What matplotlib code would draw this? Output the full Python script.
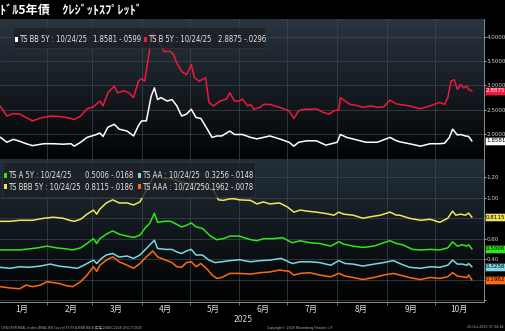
import datetime as dt
import numpy as np
import matplotlib
matplotlib.use("Agg")
import matplotlib.pyplot as plt
import matplotlib.dates as mdates
from matplotlib import font_manager
from matplotlib.colors import LinearSegmentedColormap
from matplotlib.patches import Rectangle
from matplotlib.ticker import FixedLocator, FuncFormatter

# 日付は 2025-01-01 からの経過日数
bb_days = [2, 6, 10, 14, 18, 22, 29, 35, 41, 46, 48, 52, 56, 61, 64, 66, 69, 73, 76, 81,
           85, 88, 90, 93, 96, 98, 100, 102, 106, 109, 112, 115, 118, 121, 124, 127, 131, 134, 137, 140,
           145, 148, 153, 158, 162, 166, 170, 176, 182, 185, 188, 193, 199, 205, 212, 214, 218, 224, 230, 237,
           245, 249, 251, 257, 264, 270, 276, 279, 282, 284, 287, 289, 292, 294, 296]
bb = [1.93, 1.83, 1.89, 1.85, 1.80, 1.76, 1.80, 1.80, 1.79, 1.80, 1.75, 1.83, 1.93, 1.98, 2.02, 1.95, 2.14, 2.20, 2.10, 2.06,
      1.96, 2.17, 2.27, 2.27, 2.78, 2.95, 2.71, 2.75, 2.68, 2.71, 2.58, 2.37, 2.41, 2.51, 2.34, 2.32, 2.10, 1.93, 1.96, 1.96,
      2.06, 1.99, 1.99, 1.93, 1.90, 1.93, 1.96, 1.90, 1.83, 1.75, 1.83, 1.86, 1.86, 1.77, 1.83, 1.99, 1.93, 1.88, 1.83, 1.83,
      1.93, 1.86, 1.84, 1.80, 1.75, 1.80, 1.80, 1.81, 1.93, 2.10, 1.98, 1.99, 1.96, 1.95, 1.8581]

b_days = [2, 6, 10, 14, 18, 22, 27, 33, 39, 45, 48, 52, 56, 60, 64, 66, 69, 73, 75, 79,
          82, 85, 88, 90, 92, 94, 96, 97, 101, 104, 108, 110, 112, 115, 118, 121, 123, 126, 130, 132,
          135, 139, 143, 145, 148, 151, 153, 156, 158, 160, 164, 166, 170, 176, 182, 185, 188, 191, 195, 199,
          203, 207, 210, 213, 214, 217, 220, 224, 228, 233, 237, 241, 245, 249, 251, 257, 264, 270, 276, 279,
          281, 283, 285, 287, 289, 291, 293, 294, 296]
b = [2.57, 2.37, 2.42, 2.41, 2.34, 2.27, 2.33, 2.37, 2.36, 2.33, 2.30, 2.37, 2.52, 2.56, 2.68, 2.58, 2.85, 2.99, 2.85, 2.89,
     2.85, 2.75, 3.09, 3.14, 3.09, 3.53, 3.94, 4.10, 3.88, 3.70, 3.70, 3.63, 3.46, 3.29, 3.22, 3.43, 3.16, 3.09, 3.16, 2.65,
     2.58, 2.68, 2.72, 2.85, 2.68, 2.68, 2.72, 2.58, 2.61, 2.51, 2.55, 2.61, 2.61, 2.55, 2.48, 2.32, 2.48, 2.51, 2.51, 2.52,
     2.45, 2.41, 2.48, 2.50, 2.75, 2.68, 2.61, 2.59, 2.55, 2.58, 2.55, 2.56, 2.70, 2.62, 2.61, 2.58, 2.52, 2.58, 2.65, 2.61,
     2.75, 3.09, 3.12, 2.92, 3.02, 2.95, 2.99, 2.92, 2.8875]

bbb_days = [2, 8, 14, 22, 29, 35, 41, 45, 48, 52, 56, 60, 62, 64, 68, 72, 76, 81, 85, 89,
            91, 94, 97, 99, 104, 108, 112, 118, 124, 131, 135, 138, 141, 145, 148, 151, 158, 162, 166, 170,
            176, 181, 185, 189, 193, 199, 205, 210, 213, 216, 222, 228, 233, 239, 245, 249, 251, 257, 264, 270,
            276, 281, 284, 286, 289, 292, 294, 296]
bbb = [0.77, 0.77, 0.78, 0.78, 0.80, 0.81, 0.80, 0.78, 0.77, 0.79, 0.84, 0.88, 0.84, 0.89, 0.95, 0.98, 0.95, 0.95, 0.93, 0.96,
       1.02, 1.10, 1.20, 1.22, 1.19, 1.19, 1.17, 1.14, 1.14, 1.10, 1.07, 0.98, 0.975, 0.99, 0.99, 0.98, 0.975, 0.94, 0.96, 0.94,
       0.95, 0.91, 0.86, 0.88, 0.87, 0.86, 0.846, 0.83, 0.86, 0.84, 0.83, 0.80, 0.815, 0.83, 0.86, 0.83, 0.83, 0.80, 0.78, 0.79,
       0.76, 0.80, 0.87, 0.83, 0.84, 0.83, 0.85, 0.8115]

a_days = [2, 8, 14, 20, 25, 31, 37, 43, 47, 52, 56, 60, 62, 64, 68, 72, 76, 81, 85, 89,
          92, 95, 98, 100, 104, 108, 111, 115, 118, 121, 124, 128, 133, 137, 141, 145, 151, 158, 162, 166,
          172, 178, 184, 189, 195, 201, 208, 213, 216, 222, 228, 235, 241, 245, 249, 253, 259, 264, 270, 276,
          281, 284, 287, 290, 293, 294, 296]
a = [0.49, 0.49, 0.49, 0.50, 0.51, 0.527, 0.51, 0.50, 0.49, 0.51, 0.553, 0.60, 0.553, 0.60, 0.644, 0.676, 0.644, 0.625, 0.612, 0.634,
     0.70, 0.748, 0.85, 0.76, 0.77, 0.77, 0.748, 0.715, 0.73, 0.755, 0.715, 0.70, 0.625, 0.59, 0.60, 0.625, 0.625, 0.59, 0.58, 0.60,
     0.60, 0.61, 0.56, 0.58, 0.56, 0.553, 0.527, 0.57, 0.547, 0.527, 0.514, 0.527, 0.56, 0.58, 0.553, 0.54, 0.495, 0.49, 0.495, 0.49,
     0.51, 0.569, 0.527, 0.54, 0.527, 0.54, 0.5006]

aa_days = [2, 8, 14, 20, 27, 33, 39, 45, 50, 54, 58, 60, 62, 65, 68, 72, 76, 81, 85, 89,
           93, 98, 100, 105, 109, 112, 115, 118, 121, 124, 128, 132, 136, 140, 145, 151, 158, 164, 170, 177,
           184, 189, 195, 201, 208, 213, 217, 222, 228, 235, 241, 247, 251, 257, 264, 270, 276, 281, 284, 287,
           290, 293, 294, 296]
aa = [0.319, 0.31, 0.325, 0.32, 0.332, 0.351, 0.33, 0.32, 0.31, 0.34, 0.374, 0.39, 0.357, 0.407, 0.44, 0.455, 0.42, 0.43, 0.407, 0.44,
      0.504, 0.585, 0.504, 0.495, 0.495, 0.47, 0.455, 0.48, 0.495, 0.44, 0.44, 0.39, 0.366, 0.374, 0.385, 0.393, 0.374, 0.385, 0.39, 0.407,
      0.357, 0.374, 0.374, 0.366, 0.34, 0.385, 0.357, 0.351, 0.332, 0.351, 0.366, 0.385, 0.357, 0.32, 0.31, 0.325, 0.32, 0.34, 0.39, 0.351,
      0.351, 0.34, 0.357, 0.3256]

aaa_days = [2, 8, 14, 18, 22, 27, 31, 35, 39, 43, 47, 52, 56, 60, 62, 64, 68, 72, 76, 81,
            85, 89, 93, 97, 100, 105, 109, 112, 115, 118, 121, 124, 127, 131, 134, 137, 140, 145, 151, 158,
            164, 170, 176, 182, 185, 189, 195, 201, 208, 213, 217, 222, 228, 235, 241, 247, 251, 257, 264, 270,
            276, 281, 284, 287, 290, 293, 294, 296]
aaa = [0.13, 0.117, 0.11, 0.146, 0.13, 0.146, 0.179, 0.17, 0.16, 0.14, 0.13, 0.179, 0.244, 0.325, 0.28, 0.34, 0.39, 0.422, 0.374, 0.34,
       0.31, 0.357, 0.422, 0.48, 0.422, 0.39, 0.366, 0.325, 0.32, 0.366, 0.374, 0.325, 0.357, 0.30, 0.244, 0.211, 0.22, 0.26, 0.26, 0.253,
       0.267, 0.274, 0.293, 0.28, 0.244, 0.26, 0.267, 0.244, 0.227, 0.26, 0.234, 0.22, 0.20, 0.22, 0.244, 0.26, 0.244, 0.22, 0.20, 0.22,
       0.211, 0.227, 0.267, 0.234, 0.227, 0.22, 0.244, 0.1962]

# 凡例: (ラベル, 最新値と前日比)
top_legend = [("TS BB 5Y : 10/24/25", "1.8581 -.0599"), ("TS B 5Y : 10/24/25", "2.8875 -.0296")]
low_legend = [("TS A 5Y : 10/24/25", "0.5006 -.0168"), ("TS AA : 10/24/25", "0.3256 -.0148"),
              ("TS BBB 5Y : 10/24/25", "0.8115 -.0186"), ("TS AAA : 10/24/25", "0.1962 -.0078")]
top_ticks = [2.0, 2.5, 3.0, 3.5, 4.0]
low_ticks = [0.0, 0.2, 0.4, 0.6, 0.8, 1.0, 1.2]
low_hidden = [0.0, 0.2, 0.8]   # 最新値ラベルの下に隠れる目盛

C_BB, C_B = "#ffffff", "#f0183c"
C_BBB, C_A, C_AA, C_AAA = "#f2e55a", "#2ee61a", "#7fd6e0", "#ff6a10"

# 細いフォントを探す (無ければ Liberation Sans を小さめで)
NARROW = dict(family="Liberation Sans")
LEG_FS, TICK_FS = 5.2, 4.3
for f in font_manager.fontManager.ttflist:
    if f.name == "Liberation Sans Narrow":
        NARROW, LEG_FS, TICK_FS = dict(family="Liberation Sans Narrow"), 6.3, 5.2
        break
    if f.name == "DejaVu Sans" and f.stretch in ("condensed", "semi-condensed"):
        NARROW, LEG_FS, TICK_FS = dict(family="DejaVu Sans", stretch="condensed"), 5.5, 4.5
JP = ["Noto Sans CJK JP", "DejaVu Sans"]

W, H = 505, 331
BASE = mdates.date2num(dt.datetime(2025, 1, 1))


def px(x, y):
    return x / W, 1 - y / H


def xd(days):
    return BASE + np.array(days, dtype=float)


def paint(ax, top, bottom):
    cmap = LinearSegmentedColormap.from_list("bg", [bottom, top])
    grad = np.linspace(0, 1, 256).reshape(-1, 1)
    ax.imshow(grad, extent=[0, 1, 0, 1], transform=ax.transAxes, cmap=cmap,
              aspect="auto", origin="lower", zorder=0)


def style(ax, ticks, fmt):
    ax.set_facecolor("black")
    for s in ["top", "left", "bottom"]:
        ax.spines[s].set_visible(False)
    ax.spines["right"].set_color("#9aa4ad")
    ax.spines["right"].set_linewidth(0.6)
    ax.yaxis.tick_right()
    ax.yaxis.set_major_locator(FixedLocator(ticks))
    ax.yaxis.set_major_formatter(FuncFormatter(fmt))
    ax.tick_params(axis="y", labelsize=TICK_FS, colors="#d0d0d0", length=1.2, width=0.6, pad=0.8)
    for lab in ax.get_yticklabels():
        lab.set_fontproperties(font_manager.FontProperties(size=TICK_FS, **NARROW))
    ax.xaxis.set_major_locator(mdates.MonthLocator())
    ax.set_axisbelow(True)
    ax.grid(True, which="major", color="#3b4750", linewidth=0.5)
    ax.set_xlim(BASE + 1.7, BASE + 303.6)


def value_box(ax, v, fc, tc):
    ax.annotate(f"{v:.4f}", xy=(1.0, v), xycoords=("axes fraction", "data"), xytext=(1.4, 0),
                textcoords="offset points", ha="left", va="center", fontsize=TICK_FS,
                color=tc, annotation_clip=False, zorder=6,
                bbox=dict(boxstyle="square,pad=0.22", fc=fc, ec="#202020", lw=0.4), **NARROW)


fig = plt.figure(figsize=(W / 100, H / 100), dpi=100, facecolor="black")

ax1 = fig.add_axes([0, 1 - 159 / H, 484 / W, 140 / H])
ax2 = fig.add_axes([0, 1 - 302 / H, 484 / W, 143 / H])

paint(ax1, "#2a3540", "#020304")
paint(ax2, "#23303a", "#000000")

style(ax1, top_ticks, lambda v, p: f"{v:.4f}")
style(ax2, low_ticks, lambda v, p: "" if any(abs(v - h) < 1e-9 for h in low_hidden) else f"{v:.2f}")

ax1.plot(xd(bb_days), bb, color=C_BB, lw=1.1, zorder=3)
ax1.plot(xd(b_days), b, color=C_B, lw=1.1, zorder=3)
ax1.set_ylim(1.485, 4.37)
ax1.tick_params(axis="x", length=0, labelbottom=False)

ax2.plot(xd(bbb_days), bbb, color=C_BBB, lw=1.1, zorder=3)
ax2.plot(xd(a_days), a, color=C_A, lw=1.1, zorder=3)
ax2.plot(xd(aa_days), aa, color=C_AA, lw=1.1, zorder=3)
ax2.plot(xd(aaa_days), aaa, color=C_AAA, lw=1.1, zorder=3)
ax2.set_ylim(-0.02, 1.38)

ax2.spines["bottom"].set_visible(True)
ax2.spines["bottom"].set_color("#9aa4ad")
ax2.spines["bottom"].set_linewidth(0.6)
ax2.xaxis.set_major_formatter(FuncFormatter(lambda v, p: ""))
ax2.xaxis.set_minor_locator(mdates.MonthLocator(bymonthday=16))
ax2.xaxis.set_minor_formatter(FuncFormatter(lambda v, p: f"{mdates.num2date(v).month}月"))
ax2.tick_params(axis="x", which="major", length=2, width=0.5, color="#9aa4ad")
ax2.tick_params(axis="x", which="minor", length=0, pad=2, labelsize=6, labelcolor="#e0e0e0")
for lab in ax2.get_xticklabels(minor=True):
    lab.set_family(JP)

# 右端の最新値ラベル
value_box(ax1, b[-1], C_B, "white")
value_box(ax1, bb[-1], C_BB, "black")
value_box(ax2, bbb[-1], C_BBB, "black")
value_box(ax2, a[-1], C_A, "black")
value_box(ax2, aa[-1], C_AA, "black")
value_box(ax2, aaa[-1], C_AAA, "black")


def legend_box(x0, y0, x1, y1):
    fig.add_artist(Rectangle(px(x0, y1), (x1 - x0) / W, (y1 - y0) / H, transform=fig.transFigure,
                             fc="#1b2025", ec="#30373e", lw=0.6, alpha=0.82, zorder=5))


def legend_item(x, xv, y, color, label, value):
    fig.add_artist(Rectangle(px(x, y + 2.5), 3 / W, 5 / H, transform=fig.transFigure,
                             fc=color, ec="none", zorder=6))
    fig.text(*px(x + 4.5, y), label, fontsize=LEG_FS, color="#e6e6e6",
             va="center", ha="left", zorder=6, **NARROW)
    fig.text(*px(xv, y), value, fontsize=LEG_FS, color="#e6e6e6",
             va="center", ha="left", zorder=6, **NARROW)


legend_box(13, 27, 265, 48)
legend_item(15, 93, 39.5, C_BB, *top_legend[0])
legend_item(144, 218, 39.5, C_B, *top_legend[1])

legend_box(2, 162, 255, 197)
legend_item(4, 85, 175, C_A, *low_legend[0])
legend_item(138, 205, 175, C_AA, *low_legend[1])
legend_item(4, 85, 187, C_BBB, *low_legend[2])
legend_item(138, 205, 187, C_AAA, *low_legend[3])

fig.text(*px(0, 10), "ﾄﾞﾙ5年債　ｸﾚｼﾞｯﾄｽﾌﾟﾚｯﾄﾞ", fontsize=8.8, weight="bold", color="white",
         family=JP, va="center", ha="left")
fig.text(*px(243, 319), "2025", fontsize=6, color="#e0e0e0", ha="center", va="center", **NARROW)
fig.text(*px(1, 327.5), "USGG5YR BVAL Index (BVAL BB Curve) TS 5Y A BBB BB B 日足 24DEC2024-25OCT2025",
         fontsize=2.6, color="#b0b0b0", family=JP, ha="left", va="center")
fig.text(*px(300, 327.5), "Copyright© 2025 Bloomberg Finance L.P.", fontsize=2.6, color="#b0b0b0",
         ha="center", va="center", **NARROW)
fig.text(*px(504, 327.5), "25-Oct-2025 07:34:44", fontsize=2.6, color="#b0b0b0",
         ha="right", va="center", **NARROW)

fig.savefig("out.png", dpi=100, facecolor="black")
